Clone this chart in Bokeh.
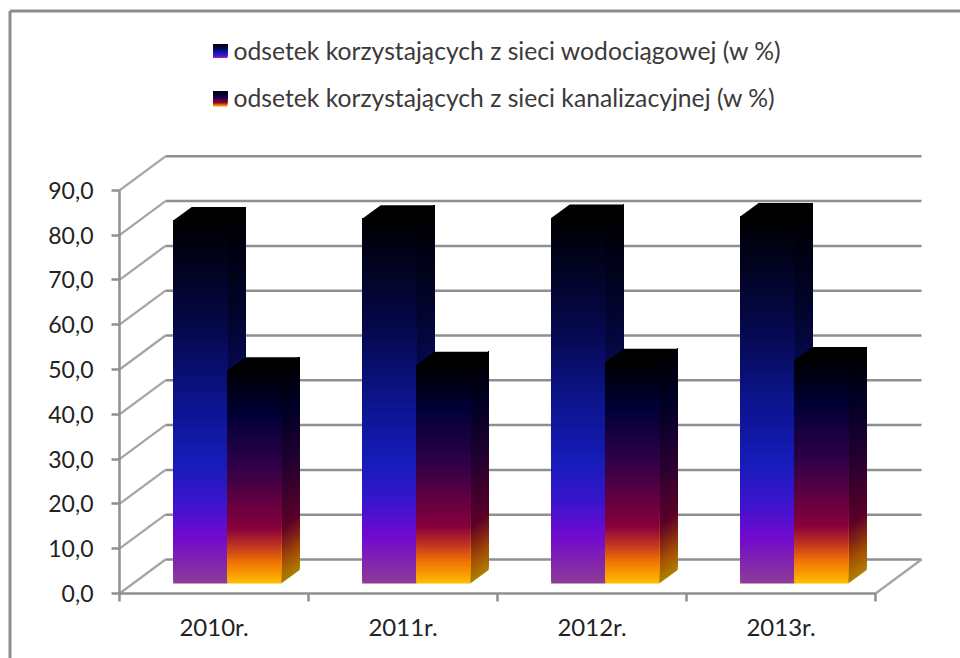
from bokeh.plotting import figure
from bokeh.embed import file_html
from bokeh.resources import INLINE
from bokeh.models import Range1d, LinearAxis, FixedTicker
from bokeh.core.properties import value

categories = ["2010r.", "2011r.", "2012r.", "2013r."]
water = [81.0, 81.4, 81.6, 81.9]
sewer = [47.5, 48.7, 49.4, 49.8]
y_ticks = [0, 10, 20, 30, 40, 50, 60, 70, 80, 90]
y_labels = ["0,0", "10,0", "20,0", "30,0", "40,0", "50,0", "60,0", "70,0", "80,0", "90,0"]
series_labels = ["odsetek korzystających z sieci wodociągowej (w %)",
                 "odsetek korzystających z sieci kanalizacyjnej (w %)"]

W, H = 960, 658
OX, OY = 0, 0
PX_X0, SLOT = 119.0, 189.0
PX_Y0, UNIT = 593.0, 4.48
FONT = "Lato"
GRID = "#8f8f8f"
WALL = "#a4a4a4"
TEXT = "#3a3a3a"


def dx(px):
    return (px - PX_X0) / SLOT


def dy(py):
    return (PX_Y0 - py) / UNIT


p = figure(width=W, height=H, output_backend="svg", toolbar_location=None,
           x_range=Range1d(dx(OX), dx(OX + W)), y_range=Range1d(dy(OY + H), dy(OY)),
           min_border=0, x_axis_location=None, y_axis_location=None,
           background_fill_color="white", border_fill_color="white")
p.grid.visible = False
p.outline_line_color = None

FLOOR_X, FLOOR_Y = 46 / SLOT, 34 / UNIT
BAR_W = 54 / SLOT
BAR_L = 53.7 / SLOT
FRONT_Y = 10 / UNIT
DEPTH_X, DEPTH_Y = 18.5 / SLOT, 13.5 / UNIT
N_SLOTS = len(categories)

# chart border
p.segment([dx(9.5), dx(9.5)], [dy(10.5), dy(10.5)], [dx(OX + W), dx(9.5)], [dy(10.5), dy(OY + H)],
          line_color="#8c8c8c", line_width=3)

# 3D walls
p.segment([0] * len(y_ticks), y_ticks, [FLOOR_X] * len(y_ticks), [t + FLOOR_Y for t in y_ticks],
          line_color=WALL, line_width=2.2)
p.segment([FLOOR_X] * len(y_ticks), [t + FLOOR_Y for t in y_ticks],
          [N_SLOTS + FLOOR_X] * len(y_ticks), [t + FLOOR_Y for t in y_ticks],
          line_color=GRID, line_width=2.5)
p.segment([N_SLOTS], [0], [N_SLOTS + FLOOR_X], [FLOOR_Y], line_color=WALL, line_width=2.2)

# gradient stops: fraction of bar height, colour (bottom to top)
WATER_STOPS = [(0.00, (142, 60, 150)), (0.125, (115, 10, 205)), (0.22, (60, 20, 205)),
               (0.33, (22, 28, 185)), (0.50, (12, 20, 140)), (0.70, (5, 8, 75)), (1.00, (0, 0, 0))]
SEWER_STOPS = [(0.00, (255, 190, 0)), (0.10, (240, 115, 5)), (0.18, (190, 50, 35)),
               (0.26, (135, 0, 60)), (0.56, (45, 0, 72)), (0.80, (0, 0, 55)), (1.00, (0, 0, 0))]


def ramp(stops, t):
    for (a, ca), (b, cb) in zip(stops, stops[1:]):
        if t <= b:
            f = (t - a) / (b - a)
            return tuple(int(round(u + (v - u) * f)) for u, v in zip(ca, cb))
    return stops[-1][1]


def hexc(c, k=1.0):
    return "#%02x%02x%02x" % tuple(int(v * k) for v in c)


def gradient_box(x0, x1, y0, y1, stops, steps):
    xl, xr, bt, tp, col = [], [], [], [], []
    for i in range(steps):
        xl.append(x0)
        xr.append(x1)
        bt.append(y0 + (y1 - y0) * i / steps)
        tp.append(y1)  # every strip reaches the top, later strips cover it
        col.append(hexc(ramp(stops, (i + 0.5) / steps)))
    p.quad(left=xl, right=xr, bottom=bt, top=tp, fill_color=col, line_color=None)


def bar(slot, position, val, stops):
    x0 = slot + BAR_L + position * BAR_W
    x1 = x0 + BAR_W
    bottom_y = FRONT_Y
    top_y = val + FRONT_Y
    steps = max(30, int(val * 2.2))

    # side face: parallelograms, darker
    xs, ys, col = [], [], []
    for i in range(steps):
        f = i / steps
        h = bottom_y + (top_y - bottom_y) * f
        xs.append([x1, x1 + DEPTH_X, x1 + DEPTH_X, x1])
        ys.append([h, h + DEPTH_Y, top_y + DEPTH_Y, top_y])
        col.append(hexc(ramp(stops, (i + 0.5) / steps), 0.68))
    p.patches(xs, ys, fill_color=col, line_color=None)

    # top face
    p.patch([x0, x1, x1 + DEPTH_X, x0 + DEPTH_X], [top_y, top_y, top_y + DEPTH_Y, top_y + DEPTH_Y],
            fill_color="#000000", line_color=None)
    # front face
    gradient_box(x0, x1, bottom_y, top_y, stops, steps)


for s in range(N_SLOTS):
    bar(s, 0, water[s], WATER_STOPS)
    bar(s, 1, sewer[s], SEWER_STOPS)

# axes
yaxis = LinearAxis(fixed_location=0, ticker=FixedTicker(ticks=y_ticks),
                   major_label_overrides={t: l for t, l in zip(y_ticks, y_labels)},
                   bounds=(0, 90), axis_line_color=GRID, axis_line_width=2.5,
                   major_tick_line_color=GRID, major_tick_line_width=2.5,
                   major_tick_in=0, major_tick_out=8, minor_tick_line_color=None,
                   major_label_text_font=FONT, major_label_text_font_size="23px",
                   major_label_text_color="#222222", major_label_standoff=18)
p.add_layout(yaxis, "left")

centers = [i + 0.5 for i in range(N_SLOTS)]
xaxis = LinearAxis(fixed_location=0,
                   ticker=FixedTicker(ticks=centers, minor_ticks=list(range(N_SLOTS + 1))),
                   major_label_overrides={c: l for c, l in zip(centers, categories)},
                   bounds=(0, N_SLOTS), axis_line_color=GRID, axis_line_width=2.5,
                   major_tick_line_color=None, minor_tick_line_color=GRID, minor_tick_line_width=2.5,
                   minor_tick_in=0, minor_tick_out=8,
                   major_label_text_font=FONT, major_label_text_font_size="24px",
                   major_label_text_color="#222222", major_label_standoff=10)
p.add_layout(xaxis, "below")

# legend
legend_rows = [(43.5, 57.5, 50.0, WATER_STOPS), (91.0, 106.0, 97.0, SEWER_STOPS)]
for (top_px, bot_px, mid_px, stops), label in zip(legend_rows, series_labels):
    gradient_box(dx(212.5), dx(227), dy(bot_px), dy(top_px), stops, 14)
    p.text([dx(233)], [dy(mid_px)], text=[label], text_font=value(FONT), text_font_size="24.7px",
           text_color=TEXT, text_baseline="middle", text_align="left")

open("out.html", "w").write(file_html(p, INLINE))
